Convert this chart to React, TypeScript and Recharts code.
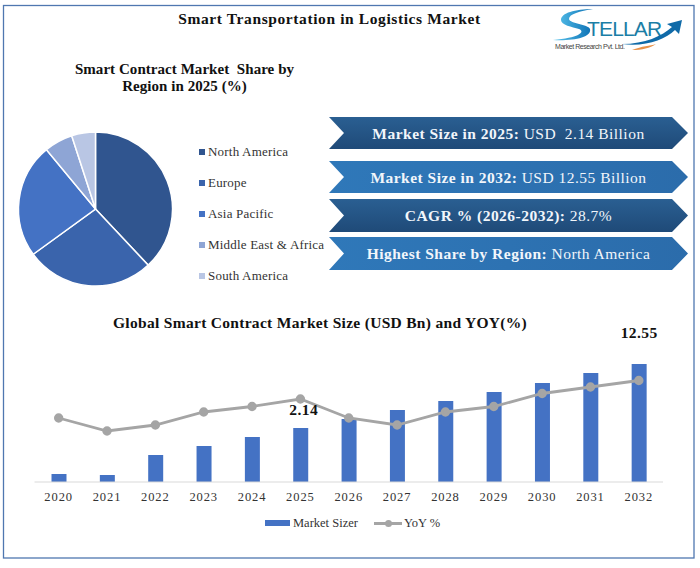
import React from "react";
import { ComposedChart, Bar, Line, XAxis, YAxis, Legend, PieChart, Pie, Cell, LabelList } from "recharts";

const regions = ["North America", "Europe", "Asia Pacific", "Middle East & Africa", "South America"];
const shares = [38, 27, 24, 6, 5];
const regionColors = ["#30558f", "#3a64ac", "#4472c4", "#8ea5d5", "#b9c6e4"];

const years = ["2020","2021","2022","2023","2024","2025","2026","2027","2028","2029","2030","2031","2032"];
// Bar and line heights as drawn; the source chart has no value axis.
const marketSize = [0.8,0.7,2.7,3.6,4.5,5.4,6.3,7.2,8.1,9.0,9.9,10.9,11.8];
const yoy = [64,51,57,70,75.5,83,64,57,70,75.5,88.5,95,101.5];
const barLabels = ["","","","","","2.14","","","","","","","12.55"];
const labelLift = [0,0,0,0,0,19,0,0,0,0,0,0,32];
const labelShift = [0,0,0,0,0,3,0,0,0,0,0,0,0];

const banners = [
  { bold: "Market Size in 2025:", rest: " USD  2.14 Billion", y: 117, h: 32, fill: "url(#dk)" },
  { bold: "Market Size in 2032:", rest: " USD 12.55 Billion", y: 161, h: 32, fill: "url(#lt)" },
  { bold: "CAGR % (2026-2032):", rest: " 28.7%", y: 199, h: 33, fill: "url(#dk)" },
  { bold: "Highest Share by Region:", rest: " North America", y: 237, h: 33, fill: "url(#lt)" },
];

const serif = "'Liberation Serif', serif";

const rows = years.map((year, i) => ({ year, size: marketSize[i], yoy: yoy[i], label: barLabels[i], idx: i }));
const slices = regions.map((name, i) => ({ name, value: shares[i] }));

function BarLabel(props: any) {
  const { x, y, width, index } = props;
  if (!barLabels[index]) return null;
  return (
    <text x={x + width / 2 + labelShift[index]} y={y - labelLift[index]} textAnchor="middle" dominantBaseline="central"
      fontFamily={serif} fontWeight={700} fontSize={15.5} fill="#111" letterSpacing={0.4}>
      {barLabels[index]}
    </text>
  );
}

function PieLegend() {
  return (
    <div style={{ position: "relative", width: 160, height: 155 }}>
      {regions.map((r, i) => (
        <div key={r} style={{ position: "absolute", left: 0, top: i * 31, height: 16, whiteSpace: "nowrap" }}>
          <span style={{ position: "absolute", left: 0, top: 5, width: 6, height: 6, background: regionColors[i] }} />
          <span style={{ position: "absolute", left: 9, top: 0, fontFamily: serif, fontSize: 13, lineHeight: "16px", color: "#333", letterSpacing: 0.2 }}>{r}</span>
        </div>
      ))}
    </div>
  );
}

function ChartLegend() {
  const t: React.CSSProperties = { position: "absolute", top: 2, fontFamily: serif, fontSize: 12.5, lineHeight: "16px", color: "#333", letterSpacing: 0, whiteSpace: "nowrap" };
  return (
    <div style={{ position: "relative", width: 700, height: 20 }}>
      <span style={{ position: "absolute", left: 265, top: 7, width: 25, height: 6, background: "#4472c4" }} />
      <span style={{ ...t, left: 293 }}>Market Sizer</span>
      <span style={{ position: "absolute", left: 374, top: 8.5, width: 28, height: 3, background: "#a5a5a5" }} />
      <span style={{ position: "absolute", left: 384.5, top: 6.5, width: 7, height: 7, borderRadius: 4, background: "#a5a5a5" }} />
      <span style={{ ...t, left: 404 }}>YoY %</span>
    </div>
  );
}

export default function App() {
  return (
    <div style={{ position: "absolute", left: 0, top: 0, width: 700, height: 568, background: "#fff", overflow: "hidden" }}>
      <svg width={700} height={568} style={{ position: "absolute", left: 0, top: 0 }}>
        <defs>
          <linearGradient id="dk" x1="0" y1="0" x2="0" y2="1">
            <stop offset="0" stopColor="#2a5f92" />
            <stop offset="1" stopColor="#1f4a78" />
          </linearGradient>
          <linearGradient id="lt" x1="0" y1="0" x2="1" y2="0">
            <stop offset="0" stopColor="#2f78b9" />
            <stop offset="1" stopColor="#2b6cab" />
          </linearGradient>
          <linearGradient id="sw" x1="0" y1="0" x2="1" y2="0">
            <stop offset="0" stopColor="#5cc6ee" />
            <stop offset="1" stopColor="#0b6fb3" />
          </linearGradient>
        </defs>
        <rect x={3.5} y={5.5} width={690.5} height={552.5} fill="none" stroke="#4f77b0" strokeWidth={1.3} />
        <text x={329.5} y={18} textAnchor="middle" dominantBaseline="central" fontFamily={serif} fontWeight={700} fontSize={15.5} fill="#111" letterSpacing={0.6}>Smart Transportation in Logistics Market</text>
        <text x={184.5} y={69} textAnchor="middle" dominantBaseline="central" fontFamily={serif} fontWeight={700} fontSize={15} fill="#111" letterSpacing={0.05} xmlSpace="preserve">Smart Contract Market  Share by</text>
        <text x={184.5} y={86} textAnchor="middle" dominantBaseline="central" fontFamily={serif} fontWeight={700} fontSize={15} fill="#111" letterSpacing={0.05}>Region in 2025 (%)</text>
        <text x={320} y={322} textAnchor="middle" dominantBaseline="central" fontFamily={serif} fontWeight={700} fontSize={15.5} fill="#111" letterSpacing={0.3}>Global Smart Contract Market Size (USD Bn) and YOY(%)</text>
        {banners.map((b) => {
          const m = b.y + b.h / 2, e = b.y + b.h;
          return (
            <g key={b.bold}>
              <polygon points={`329,${b.y} 672,${b.y} 688,${m} 672,${e} 329,${e} 344,${m}`} fill={b.fill} />
              <text x={508.5} y={m - 0.5} textAnchor="middle" dominantBaseline="central" fontFamily={serif} fontSize={15.5} fill="#f2f6fb" letterSpacing={0.48} xmlSpace="preserve">
                <tspan fontWeight={700}>{b.bold}</tspan><tspan>{b.rest}</tspan>
              </text>
            </g>
          );
        })}
        {/* logo */}
        <path d="M593 9 C575 9 561 13 561 20 C561 25 572 27 579 29 C586 32 578 38 553 40 C572 41 592 38 590 29 C588 24 570 24 569 19 C569 14 580 11 593 9 Z" fill="url(#sw)" />
        <text x={587} y={36} fontFamily="'Liberation Sans', sans-serif" fontSize={21} fill="#1b7ea6" letterSpacing={0.8} textLength={76}>TELLAR</text>
        <path d="M622 44 C645 44 662 36 672 27 L667 24 L682 20 L679 34 L675 30 C665 40 645 47 622 44 Z" fill="#0f6aa8" />
        <path d="M632 50 C642 46 650 46 656 44 C650 48 642 50 632 50 Z" fill="#e8924a" />
        <text x={555} y={49} fontFamily="'Liberation Sans', sans-serif" fontSize={7} fill="#444" textLength={70}>Market Research Pvt. Ltd.</text>
      </svg>

      <div style={{ position: "absolute", left: 0, top: 120 }}>
        <PieChart width={340} height={180} margin={{ top: 0, right: 0, bottom: 0, left: 0 }}>
          <Pie data={slices} dataKey="value" nameKey="name" cx={95.5} cy={89} outerRadius={77} startAngle={90} endAngle={-270}
            stroke="#fff" strokeWidth={1.5} isAnimationActive={false}>
            {slices.map((s, i) => <Cell key={s.name} fill={regionColors[i]} />)}
          </Pie>
          <Legend content={() => <PieLegend />} wrapperStyle={{ position: "absolute", left: 199, top: 24, width: 160, height: 155, bottom: "auto" }} />
        </PieChart>
      </div>

      <div style={{ position: "absolute", left: 0, top: 300 }}>
        <ComposedChart width={700} height={268} data={rows} margin={{ top: 52, right: 37, bottom: 35, left: 34.5 }}>
          <XAxis dataKey="year" axisLine={{ stroke: "#d9d9d9" }} tickLine={false} height={31} interval={0}
            tick={{ fontFamily: serif, fontSize: 12.5, fill: "#333", letterSpacing: 0.9 }} tickMargin={4} />
          <YAxis yAxisId="s" hide domain={[0, 13]} />
          <YAxis yAxisId="y" hide domain={[0, 130]} orientation="right" />
          <Bar yAxisId="s" dataKey="size" name="Market Sizer" fill="#4472c4" barSize={15} isAnimationActive={false}>
            <LabelList dataKey="label" content={<BarLabel />} />
          </Bar>
          <Line yAxisId="y" dataKey="yoy" name="YoY %" stroke="#a5a5a5" strokeWidth={2.8} dot={{ r: 3.3, fill: "#a5a5a5", stroke: "#a5a5a5" }} isAnimationActive={false} />
          <Legend content={() => <ChartLegend />} wrapperStyle={{ left: 0, width: 700 }} />
        </ComposedChart>
      </div>
    </div>
  );
}
